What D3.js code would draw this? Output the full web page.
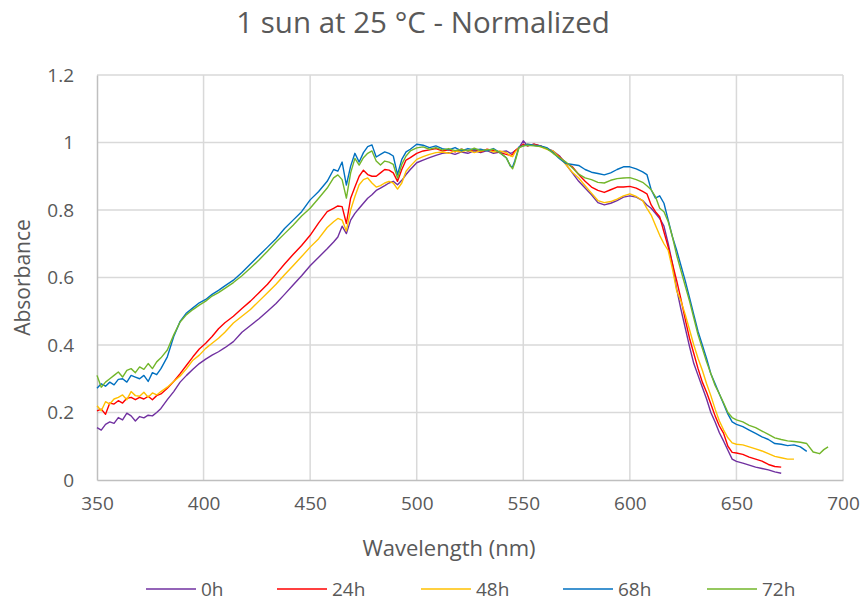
<!DOCTYPE html>
<html><head><meta charset="utf-8">
<script src="https://cdn.jsdelivr.net/npm/d3@7"></script>
<style>
html,body{margin:0;padding:0;background:#fff;}
text{font-family:"Open Sans",sans-serif;fill:#595959;}
</style></head>
<body><svg id="chart" width="865" height="601"></svg>
<script>
// Wavelength grid (nm)
const wavelength = [
350,352,354,356,358,360,362,364,366,368,370,372,374,376,378,380,
383,386,389,392,395,398,401,404,407,410,
414,418,422,426,430,434,438,442,446,450,454,458,
461,463,465,467,469,471,473,475,477,479,481,483,485,487,489,491,493,495,497,
500,503,506,509,512,515,518,521,524,527,530,533,536,539,542,
544,545,546,548,550,552,
555,558,561,564,567,570,573,576,579,582,585,588,591,594,597,600,603,606,
608,610,612,614,616,618,620,622,624,626,628,630,632,634,636,638,640,642,644,646,648,650,
653,656,659,662,665,668,671,674,677,680,683,686,689,691,693];

const abs0h = [
0.155,0.148,0.165,0.172,0.168,0.185,0.178,0.198,0.19,0.175,0.188,0.184,0.192,0.19,0.2,0.212,
0.238,0.262,0.29,0.31,0.328,0.345,0.358,0.37,0.38,0.392,
0.41,0.438,0.458,0.478,0.5,0.523,0.55,0.578,0.605,0.635,0.66,0.685,
0.705,0.72,0.752,0.73,0.77,0.79,0.805,0.82,0.835,0.845,0.858,0.865,0.872,0.88,0.885,0.875,0.888,0.905,0.92,
0.94,0.948,0.955,0.962,0.968,0.97,0.965,0.972,0.968,0.975,0.97,0.976,0.968,0.972,0.975,
0.968,0.97,0.975,0.985,1.005,0.99,
0.995,0.99,0.982,0.975,0.96,0.935,0.91,0.885,0.865,0.845,0.822,0.815,0.82,0.828,0.838,0.842,0.838,0.828,
0.815,0.805,0.79,0.775,0.752,0.7,0.64,0.565,0.505,0.45,0.395,0.345,0.31,0.275,0.24,0.2,0.172,0.14,0.115,0.088,0.062,0.055,
0.05,0.044,0.038,0.034,0.03,0.024,0.02];

const abs24h = [
0.205,0.21,0.195,0.228,0.225,0.235,0.228,0.242,0.245,0.238,0.245,0.24,0.248,0.238,0.25,0.255,
0.272,0.292,0.315,0.34,0.365,0.388,0.405,0.425,0.448,0.466,
0.485,0.508,0.53,0.555,0.58,0.61,0.64,0.668,0.695,0.725,0.762,0.795,
0.805,0.812,0.81,0.76,0.835,0.868,0.9,0.918,0.905,0.9,0.9,0.91,0.92,0.918,0.91,0.885,0.92,0.948,0.955,
0.968,0.975,0.978,0.982,0.975,0.978,0.972,0.98,0.975,0.978,0.972,0.98,0.976,0.97,0.965,
0.962,0.965,0.975,0.985,0.995,0.99,
0.995,0.99,0.982,0.972,0.958,0.94,0.928,0.905,0.885,0.868,0.858,0.852,0.86,0.868,0.868,0.87,0.865,0.855,
0.848,0.815,0.795,0.78,0.735,0.69,0.64,0.59,0.535,0.475,0.42,0.375,0.33,0.29,0.26,0.225,0.19,0.16,0.138,0.1,0.082,0.08,
0.076,0.068,0.062,0.056,0.046,0.04,0.038];

const abs48h = [
0.22,0.205,0.232,0.225,0.24,0.245,0.252,0.238,0.262,0.25,0.248,0.26,0.245,0.258,0.252,0.262,
0.275,0.292,0.308,0.33,0.355,0.37,0.39,0.405,0.42,0.438,
0.465,0.485,0.505,0.53,0.555,0.58,0.608,0.635,0.662,0.69,0.715,0.748,
0.765,0.775,0.77,0.738,0.8,0.84,0.875,0.89,0.895,0.88,0.868,0.872,0.88,0.885,0.88,0.862,0.88,0.915,0.93,
0.95,0.958,0.965,0.97,0.972,0.968,0.975,0.972,0.978,0.97,0.975,0.978,0.972,0.975,0.97,
0.96,0.958,0.97,0.985,0.99,0.995,
0.992,0.988,0.98,0.975,0.955,0.935,0.912,0.895,0.872,0.85,0.828,0.822,0.825,0.832,0.842,0.848,0.84,0.828,
0.805,0.785,0.755,0.725,0.7,0.68,0.625,0.56,0.53,0.49,0.445,0.4,0.36,0.325,0.285,0.25,0.21,0.175,0.148,0.125,0.11,0.106,
0.104,0.098,0.092,0.086,0.078,0.07,0.066,0.062,0.062];

const abs68h = [
0.272,0.285,0.278,0.29,0.282,0.298,0.3,0.29,0.31,0.305,0.3,0.31,0.292,0.318,0.312,0.33,
0.365,0.425,0.47,0.495,0.51,0.525,0.535,0.55,0.562,0.575,
0.592,0.615,0.64,0.665,0.69,0.715,0.745,0.77,0.795,0.83,0.855,0.885,
0.92,0.915,0.942,0.874,0.93,0.968,0.942,0.97,0.988,0.993,0.957,0.965,0.972,0.968,0.96,0.905,0.95,0.972,0.98,
0.995,0.992,0.985,0.99,0.982,0.978,0.985,0.975,0.982,0.978,0.98,0.975,0.982,0.97,0.955,
0.93,0.928,0.945,0.987,0.99,0.995,
0.992,0.99,0.985,0.97,0.952,0.938,0.935,0.932,0.92,0.912,0.908,0.904,0.91,0.92,0.928,0.928,0.922,0.913,
0.905,0.86,0.835,0.842,0.82,0.77,0.72,0.68,0.635,0.59,0.54,0.49,0.44,0.4,0.36,0.315,0.285,0.255,0.225,0.195,0.172,0.165,
0.158,0.148,0.138,0.128,0.12,0.108,0.106,0.102,0.104,0.098,0.085];

const abs72h = [
0.31,0.275,0.29,0.3,0.31,0.32,0.305,0.325,0.33,0.318,0.335,0.328,0.345,0.33,0.35,0.362,
0.385,0.43,0.468,0.49,0.505,0.518,0.53,0.545,0.555,0.568,
0.585,0.605,0.628,0.652,0.678,0.705,0.73,0.755,0.782,0.805,0.835,0.865,
0.895,0.904,0.89,0.835,0.91,0.953,0.933,0.955,0.968,0.975,0.945,0.933,0.945,0.942,0.935,0.895,0.935,0.96,0.975,
0.984,0.987,0.98,0.985,0.978,0.982,0.976,0.98,0.975,0.983,0.976,0.978,0.98,0.97,0.955,
0.93,0.922,0.94,0.985,0.99,0.992,
0.99,0.988,0.982,0.968,0.955,0.942,0.925,0.906,0.895,0.89,0.882,0.88,0.888,0.893,0.895,0.896,0.89,0.882,
0.872,0.86,0.84,0.805,0.795,0.765,0.72,0.665,0.62,0.575,0.53,0.48,0.43,0.39,0.35,0.315,0.28,0.255,0.228,0.2,0.185,0.178,
0.172,0.162,0.155,0.145,0.135,0.125,0.12,0.116,0.114,0.112,0.108,0.083,0.078,0.09,0.098];

const seriesNames = ["0h","24h","48h","68h","72h"];
const seriesColors = ["#7030A0","#FF0000","#FFC000","#0070C0","#72B62A"];
const seriesValues = [abs0h, abs24h, abs48h, abs68h, abs72h];
const xTicks = [350,400,450,500,550,600,650,700];
const yTicks = [0,0.2,0.4,0.6,0.8,1,1.2];

const W = 865, H = 601;
const m = {left:97, right:22, top:75, bottom:121};
const svg = d3.select("#chart");
const x = d3.scaleLinear().domain([350,700]).range([m.left, W - m.right]);
const y = d3.scaleLinear().domain([0,1.2]).range([H - m.bottom, m.top]);

// gridlines
const g = svg.append("g");
g.selectAll("line.h").data(yTicks.filter(d=>d>0)).join("line")
  .attr("x1", x(350)).attr("x2", x(700))
  .attr("y1", d=>y(d)).attr("y2", d=>y(d))
  .attr("stroke","#d9d9d9").attr("stroke-width",1.5);
g.selectAll("line.v").data(xTicks.filter(d=>d>350)).join("line")
  .attr("x1", d=>x(d)).attr("x2", d=>x(d))
  .attr("y1", y(0)).attr("y2", y(1.2))
  .attr("stroke","#d9d9d9").attr("stroke-width",1.5);

// axes
const xAxis = d3.axisBottom(x).tickValues(xTicks).tickSize(0).tickPadding(17).tickFormat(d3.format("d"));
const yAxis = d3.axisLeft(y).tickValues(yTicks).tickSize(0).tickPadding(23).tickFormat(d=>String(d));
const gx = svg.append("g").attr("transform",`translate(0,${y(0)})`).call(xAxis);
const gy = svg.append("g").attr("transform",`translate(${x(350)},0)`).call(yAxis);
gx.select(".domain").attr("stroke","#bfbfbf").attr("stroke-width",1.5);
gy.select(".domain").attr("stroke","#bfbfbf").attr("stroke-width",1.5);
gx.selectAll(".tick text").style("font-size","19px").attr("fill","#595959");
gy.selectAll(".tick text").style("font-size","19px").attr("fill","#595959");

// lines
const line = d3.line().x(d=>x(d[0])).y(d=>y(d[1]));
seriesValues.forEach((vals,i)=>{
  const pts = vals.map((v,j)=>[wavelength[j], v]);
  svg.append("path").datum(pts)
    .attr("fill","none").attr("stroke",seriesColors[i])
    .attr("stroke-width",1.4).attr("stroke-linejoin","round")
    .attr("d", line);
});

// title
svg.append("text").attr("x",423).attr("y",33).attr("text-anchor","middle")
  .style("font-size","29.5px").text("1 sun at 25 °C - Normalized");
// axis titles
svg.append("text").attr("x", 449).attr("y",556).attr("text-anchor","middle")
  .style("font-size","22px").text("Wavelength (nm)");
svg.append("text").attr("transform",`translate(30,${(y(0)+y(1.2))/2}) rotate(-90)`)
  .attr("text-anchor","middle").style("font-size","21px").text("Absorbance");

// legend
const legX = [146, 277, 421, 563, 707];
const leg = svg.append("g");
seriesNames.forEach((n,i)=>{
  leg.append("line").attr("x1",legX[i]).attr("x2",legX[i]+50)
    .attr("y1",589).attr("y2",589).attr("stroke",seriesColors[i]).attr("stroke-width",1.5);
  leg.append("text").attr("x",legX[i]+55).attr("y",596).style("font-size","19px").text(n);
});
</script></body></html>
